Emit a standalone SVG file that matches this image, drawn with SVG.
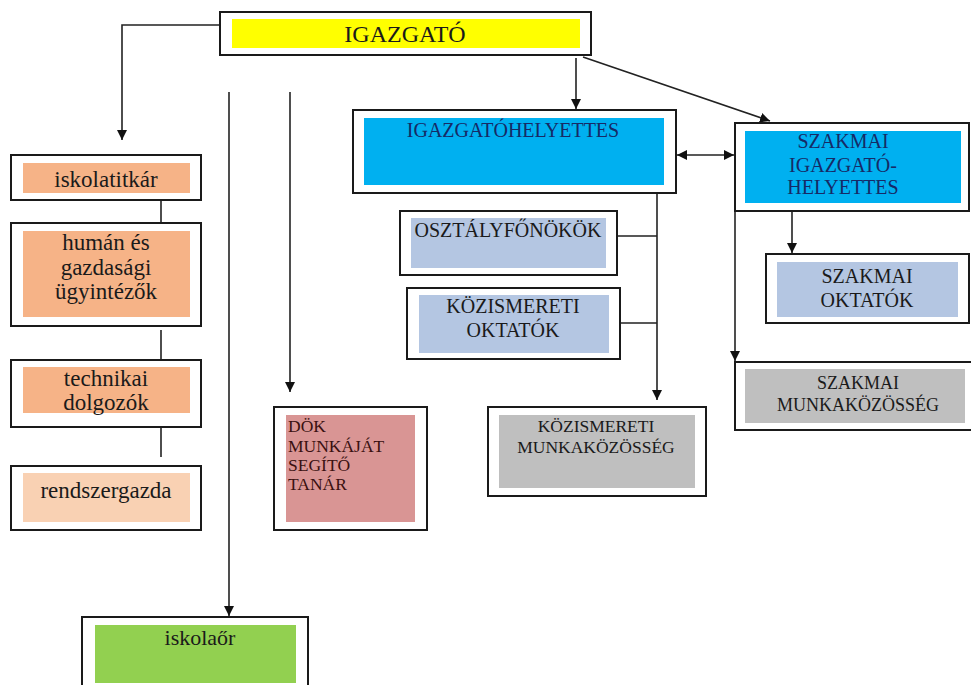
<svg xmlns="http://www.w3.org/2000/svg" width="971" height="685" viewBox="0 0 971 685">
<style>
.o{fill:#fff;stroke:#1a1a1a;stroke-width:2}
.t{font-family:"Liberation Serif","Times New Roman",serif;fill:#1a1a1a}
.c{text-anchor:middle}
.b{fill:#162a66}
.d{fill:#3a1010}
.l{fill:none;stroke:#222;stroke-width:1.6}
</style>
<defs>
<marker id="a" viewBox="0 0 10 10" refX="10" refY="5" markerWidth="10" markerHeight="10" markerUnits="userSpaceOnUse" orient="auto-start-reverse">
<path d="M0,0 L10,5 L0,10 z" fill="#111"/>
</marker>
</defs>
<rect width="971" height="685" fill="#fff"/>
<g id="connectors">
<path class="l" d="M220,25 H122 V140" marker-end="url(#a)"/>
<path class="l" d="M229,92 V616" marker-end="url(#a)"/>
<path class="l" d="M290,92 V392" marker-end="url(#a)"/>
<path class="l" d="M576,58 V109" marker-end="url(#a)"/>
<path class="l" d="M583,57 L770,121" marker-end="url(#a)"/>
<path class="l" d="M677,155 H734" marker-start="url(#a)" marker-end="url(#a)"/>
<path class="l" d="M657,193 V400" marker-end="url(#a)"/>
<path class="l" d="M617,236 H657 M620,323 H657"/>
<path class="l" d="M792,211 V253" marker-end="url(#a)"/>
<path class="l" d="M735,211 V361" marker-end="url(#a)"/>
<path class="l" d="M161,200 V223 M161,330 V360 M161,427 V457"/>
</g>
<g id="igazgato">
<rect class="o" x="220" y="12" width="371" height="43"/>
<rect x="232" y="19" width="348" height="29" fill="#ffff00"/>
<text class="t c" x="405" y="42" font-size="24">IGAZGATÓ</text>
</g>
<g id="igazgatohelyettes">
<rect class="o" x="353" y="110" width="323" height="83"/>
<rect x="364" y="118" width="300" height="67" fill="#00b0f0"/>
<text class="t c b" x="513" y="137" font-size="20">IGAZGATÓHELYETTES</text>
</g>
<g id="szakmai-igazgatohelyettes">
<rect class="o" x="735" y="123" width="234" height="88"/>
<rect x="745" y="131" width="216" height="72" fill="#00b0f0"/>
<text class="t c b" x="843" y="148" font-size="20">SZAKMAI</text>
<text class="t c b" x="843" y="172" font-size="20">IGAZGATÓ-</text>
<text class="t c b" x="843" y="194" font-size="20">HELYETTES</text>
</g>
<g id="osztalyfonokok">
<rect class="o" x="400" y="211" width="217" height="64"/>
<rect x="411" y="218" width="195" height="50" fill="#b4c6e2"/>
<text class="t c" x="508" y="237" font-size="20">OSZTÁLYFŐNÖKÖK</text>
</g>
<g id="kozismereti-oktatok">
<rect class="o" x="407" y="288" width="213" height="71"/>
<rect x="419" y="295" width="190" height="58" fill="#b4c6e2"/>
<text class="t c" x="513" y="313" font-size="20">KÖZISMERETI</text>
<text class="t c" x="513" y="337" font-size="20">OKTATÓK</text>
</g>
<g id="szakmai-oktatok">
<rect class="o" x="766" y="254" width="203" height="69"/>
<rect x="777" y="262" width="181" height="55" fill="#b4c6e2"/>
<text class="t c" x="867" y="283" font-size="20">SZAKMAI</text>
<text class="t c" x="867" y="307" font-size="20">OKTATÓK</text>
</g>
<g id="szakmai-munkakozosseg">
<rect class="o" x="735" y="362" width="240" height="68"/>
<rect x="745" y="369" width="220" height="54" fill="#bfbfbf"/>
<text class="t c" x="858" y="389" font-size="18">SZAKMAI</text>
<text class="t c" x="858" y="411" font-size="18">MUNKAKÖZÖSSÉG</text>
</g>
<g id="kozismereti-munkakozosseg">
<rect class="o" x="488" y="407" width="218" height="89"/>
<rect x="499" y="415" width="196" height="73" fill="#bfbfbf"/>
<text class="t c" x="596" y="432" font-size="17.5">KÖZISMERETI</text>
<text class="t c" x="596" y="453" font-size="17.5">MUNKAKÖZÖSSÉG</text>
</g>
<g id="dok">
<rect class="o" x="274" y="407" width="153" height="123"/>
<rect x="286" y="415" width="129" height="107" fill="#d99594"/>
<text class="t d" x="288" y="432" font-size="17.5">DÖK</text>
<text class="t d" x="288" y="452" font-size="17.5">MUNKÁJÁT</text>
<text class="t d" x="288" y="471" font-size="17.5">SEGÍTŐ</text>
<text class="t d" x="288" y="490" font-size="17.5">TANÁR</text>
</g>
<g id="iskolatitkar">
<rect class="o" x="11" y="155" width="190" height="45"/>
<rect x="23" y="163" width="167" height="30" fill="#f6b387"/>
<text class="t c" x="106" y="187" font-size="23">iskolatitkár</text>
</g>
<g id="human">
<rect class="o" x="11" y="223" width="190" height="103"/>
<rect x="23" y="231" width="167" height="86" fill="#f6b387"/>
<text class="t c" x="106" y="250" font-size="23">humán és</text>
<text class="t c" x="106" y="275" font-size="23">gazdasági</text>
<text class="t c" x="106" y="299" font-size="23">ügyintézők</text>
</g>
<g id="technikai">
<rect class="o" x="11" y="360" width="190" height="67"/>
<rect x="23" y="367" width="167" height="46" fill="#f6b387"/>
<text class="t c" x="106" y="386" font-size="23">technikai</text>
<text class="t c" x="106" y="410" font-size="23">dolgozók</text>
</g>
<g id="rendszergazda">
<rect class="o" x="11" y="466" width="190" height="64"/>
<rect x="23" y="473" width="167" height="49" fill="#f9d1b3"/>
<text class="t c" x="106" y="498" font-size="23">rendszergazda</text>
</g>
<g id="iskolaor">
<rect class="o" x="82" y="617" width="226" height="72"/>
<rect x="95" y="625" width="201" height="58" fill="#92d050"/>
<text class="t c" x="200" y="645" font-size="22">iskolaőr</text>
</g>
</svg>
